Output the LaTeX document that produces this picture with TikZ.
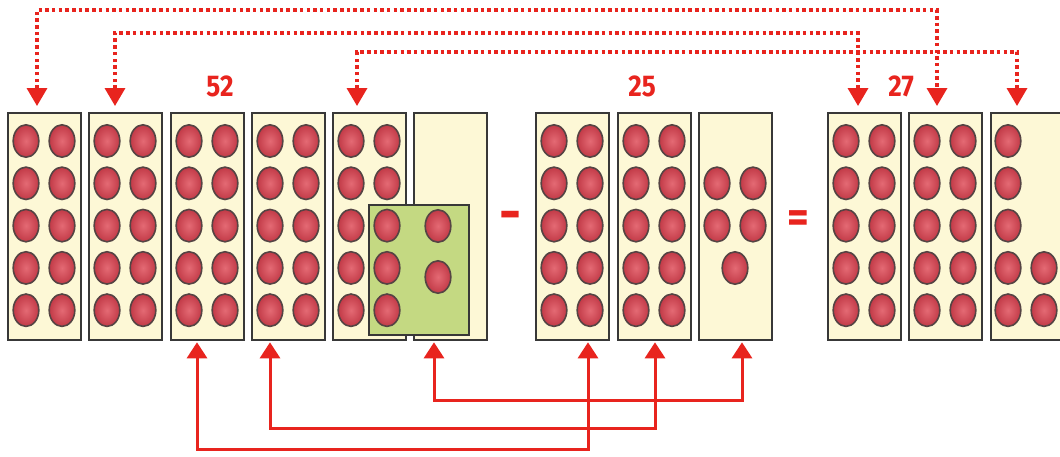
\documentclass[tikz,border=0pt]{standalone}
\usepackage{fontspec}
\setmainfont{Fira Sans}
\usetikzlibrary{arrows.meta}
\definecolor{arrred}{HTML}{E8241E}
\definecolor{boxfill}{HTML}{FDF8D6}
\definecolor{boxline}{HTML}{383838}
\definecolor{greenfill}{HTML}{C4D982}
\definecolor{ballin}{HTML}{E46A74}
\definecolor{ballout}{HTML}{C23A47}
\definecolor{ballline}{HTML}{554444}
\tikzset{
  tray/.style={draw=boxline, fill=boxfill, line width=2.3pt, minimum width=73pt, minimum height=227pt, anchor=north west, inner sep=0pt},
  greenbox/.style={draw=boxline, fill=greenfill, line width=2.3pt, minimum width=100pt, minimum height=130pt, anchor=north west, inner sep=0pt},
  ballstyle/.style={draw=ballline, line width=1.6pt, inner color=ballin, outer color=ballout},
  numlabel/.style={text=arrred, font=\fontsize{30}{30}\selectfont\bfseries, xscale=0.87, inner sep=0pt},
  opsign/.style={text=arrred, inner sep=0pt},
  dotlink/.style={draw=arrred, line width=3.5pt, dash pattern=on 3.5pt off 3.2pt, {Triangle[width=20pt,length=18pt]}-{Triangle[width=20pt,length=18pt]}},
  link/.style={draw=arrred, line width=3pt, {Triangle[width=20pt,length=16pt]}-{Triangle[width=20pt,length=16pt]}},
}
\newcommand\redball[2]{\path[ballstyle] (#1,#2) ellipse [x radius=12.8pt, y radius=16.2pt];}
\begin{document}
\begin{tikzpicture}[x=1pt,y=-1pt]
\useasboundingbox (0,0) rectangle (1060,456);
\fill[white] (0,0) rectangle (1060,456);
% trays
\node[tray] (b1) at (7,112) {};
\node[tray] (b2) at (88,112) {};
\node[tray] (b3) at (170,112) {};
\node[tray] (b4) at (251,112) {};
\node[tray] (b5) at (332,112) {};
\node[tray] (b6) at (413,112) {};
\node[tray] (b7) at (535,112) {};
\node[tray] (b8) at (617,112) {};
\node[tray] (b9) at (698,112) {};
\node[tray] (b10) at (827,112) {};
\node[tray] (b11) at (908,112) {};
\node[tray] (b12) at (990,112) {};
\node[greenbox] (g) at (368,204) {};
% balls: full trays
\foreach \bx in {7,88,170,251,332,535,617,827,908}{
  \foreach \r in {0,...,4}{
    \foreach \c in {19,55}{
      \redball{{\bx+\c}}{{141+42.3*\r}}
    }
  }
}
% green box extra balls
\redball{438}{226}
\redball{438}{277}
% tray 9 (5 balls)
\redball{717}{183.3}
\redball{753}{183.3}
\redball{717}{225.6}
\redball{753}{225.6}
\redball{735}{268}
% tray 12 (7 balls)
\foreach \r in {0,...,4}{\redball{1008}{{141+42.3*\r}}}
\redball{1044}{268}
\redball{1044}{310.2}
% labels
\node[numlabel] (n52) at (220,86) {52};
\node[numlabel] (n25) at (642,86) {25};
\node[numlabel] (n27) at (901,86) {27};
\node[opsign, font=\fontsize{54}{54}\selectfont\bfseries] (minus) at (510,221) {-};
\node[opsign, font=\fontsize{44}{44}\selectfont\bfseries, xscale=0.95] (eq) at (798,222) {=};
% top dotted links
\coordinate (yA) at (0,10);
\coordinate (yB) at (0,33);
\coordinate (yC) at (0,52);
\coordinate (sA) at ([xshift=30pt,yshift=6pt]b1.north west);
\coordinate (eA) at ([xshift=29pt,yshift=6pt]b11.north west);
\coordinate (sB) at ([xshift=27pt,yshift=6pt]b2.north west);
\coordinate (eB) at ([xshift=31pt,yshift=6pt]b10.north west);
\coordinate (sC) at ([xshift=25pt,yshift=6pt]b5.north west);
\coordinate (eC) at ([xshift=27pt,yshift=6pt]b12.north west);
\draw[dotlink] (sA) -- (sA |- yA) -| (eA);
\draw[dotlink] (sB) -- (sB |- yB) -| (eB);
\draw[dotlink] (sC) -- (sC |- yC) -| (eC);
% bottom solid links
\coordinate (y1) at (0,449);
\coordinate (y2) at (0,428);
\coordinate (y3) at (0,400);
\coordinate (s1) at ([xshift=27pt,yshift=-1pt]b3.south west);
\coordinate (e1) at ([xshift=53pt,yshift=-1pt]b7.south west);
\coordinate (s2) at ([xshift=19pt,yshift=-1pt]b4.south west);
\coordinate (e2) at ([xshift=38pt,yshift=-1pt]b8.south west);
\coordinate (s3) at ([xshift=21pt,yshift=-1pt]b6.south west);
\coordinate (e3) at ([xshift=44pt,yshift=-1pt]b9.south west);
\draw[link] (s3) -- (s3 |- y3) -| (e3);
\draw[link] (s2) -- (s2 |- y2) -| (e2);
\draw[link] (s1) -- (s1 |- y1) -| (e1);
\end{tikzpicture}
\end{document}
